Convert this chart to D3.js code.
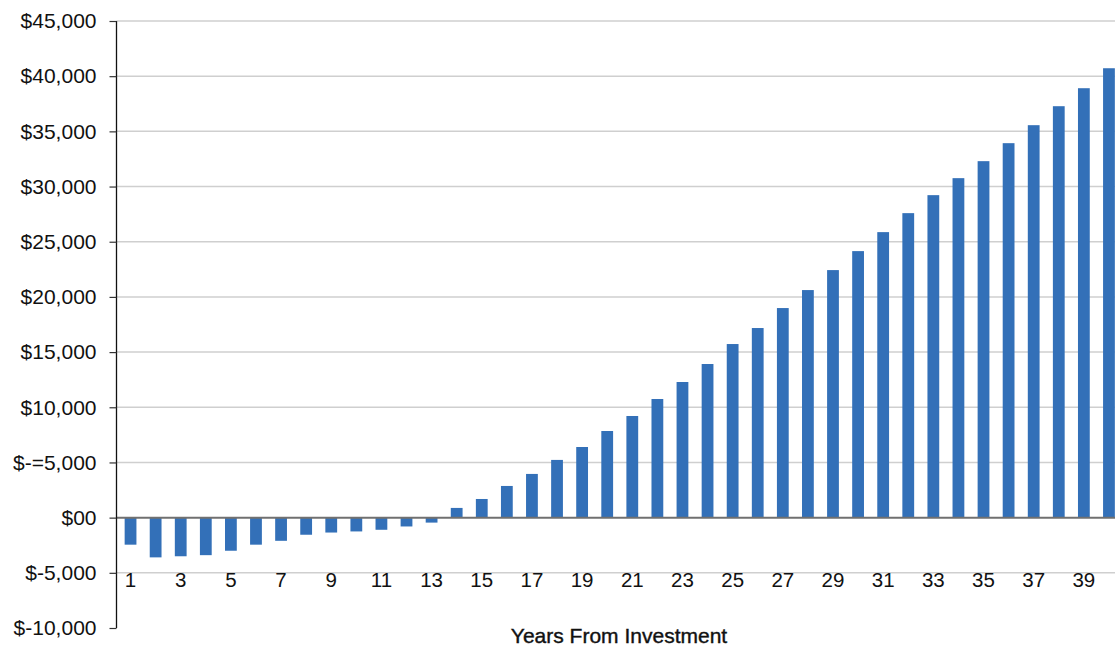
<!DOCTYPE html>
<html>
<head>
<meta charset="utf-8">
<script src="https://cdn.jsdelivr.net/npm/d3@7"></script>
<style>
  html, body { margin: 0; padding: 0; background: #fff; }
  svg { display: block; font-family: "Liberation Sans", Helvetica, Arial, sans-serif; }
</style>
</head>
<body>
<div id="chart"></div>
<script>
// Years 1..40 and cumulative net value ($)
const years = d3.range(1, 41);
const values = [
  -2450, -3600, -3500, -3400, -3000, -2450, -2100, -1550, -1350, -1250,
  -1100,  -800,  -450,   880,  1690,  2870,  3960,  5230,  6400,  7850,
   9210, 10750, 12290, 13920, 15730, 17180, 18990, 20620, 22430, 24150,
  25870, 27590, 29220, 30760, 32300, 33930, 35560, 37280, 38910, 40720
];
const yTicks = [-10000, -5000, 0, 5000, 10000, 15000, 20000, 25000, 30000, 35000, 40000, 45000];
const yTickLabels = ["$-10,000", "$-5,000", "$00", "$-=5,000", "$10,000", "$15,000",
                     "$20,000", "$25,000", "$30,000", "$35,000", "$40,000", "$45,000"];
const xTickLabels = years.filter(y => y % 2 === 1);
const xTitle = "Years From Investment";

const width = 1115, height = 646;
const svg = d3.select("#chart").append("svg")
    .attr("width", width).attr("height", height);

const x = d3.scaleBand().domain(years).range([118, 1121.5]).paddingInner(0.53).paddingOuter(0.265);
const y = d3.scaleLinear().domain([-10000, 45000]).range([628, 21]);
const axisX = 116.5;

// Gridlines
svg.append("g").selectAll("line")
    .data(yTicks.filter(t => t !== 0 && t !== -10000))
    .join("line")
    .attr("x1", axisX).attr("x2", width)
    .attr("y1", d => y(d)).attr("y2", d => y(d))
    .attr("stroke", "#cfcfcf").attr("stroke-width", 1.5);

// Bars
svg.append("g").selectAll("rect")
    .data(years)
    .join("rect")
    .attr("x", d => x(d))
    .attr("width", x.bandwidth())
    .attr("y", (d, i) => y(Math.max(0, values[i])))
    .attr("height", (d, i) => Math.abs(y(values[i]) - y(0)))
    .attr("fill", "#3370b8");

// Zero line
svg.append("line")
    .attr("x1", axisX).attr("x2", width)
    .attr("y1", y(0)).attr("y2", y(0))
    .attr("stroke", "#707070").attr("stroke-width", 2);

// Y axis
const yAxis = svg.append("g").attr("transform", `translate(${axisX},0)`)
    .call(d3.axisLeft(y).tickValues(yTicks).tickSize(7).tickPadding(13)
        .tickFormat((d, i) => yTickLabels[i]));
yAxis.select(".domain").attr("stroke", "#111").attr("stroke-width", 1.3).attr("d", `M0,${y(45000)}V${y(-10000)}`);
yAxis.selectAll(".tick line").attr("stroke", "#333").attr("stroke-width", 1.2);
yAxis.selectAll(".tick text")
    .style("font-family", "'Liberation Sans', Helvetica, Arial, sans-serif")
    .style("font-size", "21px").attr("fill", "#111");

// X tick labels
svg.append("g").selectAll("text")
    .data(xTickLabels)
    .join("text")
    .attr("x", d => x(d) + x.bandwidth() / 2)
    .attr("y", 587)
    .attr("text-anchor", "middle")
    .style("font-size", "20.5px").attr("fill", "#111")
    .text(d => d);

// X axis title
svg.append("text")
    .attr("x", 619).attr("y", 643)
    .attr("text-anchor", "middle")
    .style("font-size", "21px")
    .attr("fill", "#111").attr("stroke", "#111").attr("stroke-width", 0.4)
    .text(xTitle);
</script>
</body>
</html>
